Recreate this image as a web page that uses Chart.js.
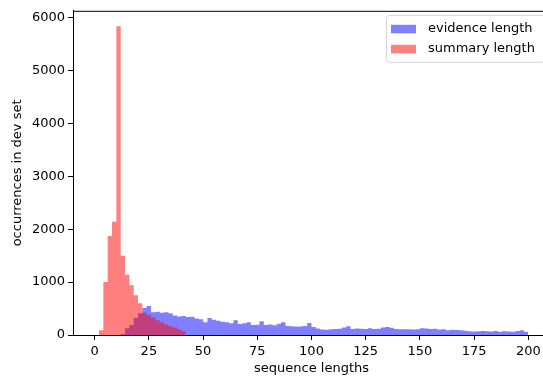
<!DOCTYPE html>
<html>
<head>
<meta charset="utf-8">
<script src="https://cdn.jsdelivr.net/npm/chart.js@4"></script>
<style>
html, body { margin: 0; padding: 0; background: #fff; overflow: hidden; }
#wrap { width: 543px; height: 376px; overflow: hidden; }
#box { width: 552px; height: 376px; }
</style>
</head>
<body>
<div id="wrap"><div id="box"><canvas id="hist"></canvas></div></div>
<script>
// histogram bins: width 2, left edges 0..198
const binWidth = 2;
const binStart = Array.from({length: 100}, (_, i) => i * binWidth);

const evidenceCounts = [
  0, 0, 0, 0, 0, 0, 20, 130, 190, 320,
  410, 510, 550, 430, 440, 420, 430, 410, 370, 350,
  360, 340, 345, 310, 300, 240, 320, 290, 270, 250,
  240, 220, 280, 210, 220, 240, 190, 195, 260, 190,
  200, 185, 215, 240, 170, 165, 160, 160, 170, 225,
  150, 125, 105, 100, 110, 115, 120, 140, 165, 115,
  125, 120, 115, 130, 115, 120, 140, 150, 135, 115,
  110, 110, 108, 105, 110, 130, 125, 115, 120, 105,
  110, 90, 100, 95, 90, 80, 70, 65, 70, 75,
  70, 65, 75, 60, 70, 65, 60, 75, 90, 60
];
const summaryCounts = [
  0, 90, 1000, 1870, 2140, 5840, 1500, 1140, 940, 750,
  600, 420, 380, 330, 280, 240, 200, 170, 140, 110, 70
];

const xTicks = [0, 25, 50, 75, 100, 125, 150, 175, 200];
const yTicks = [0, 1000, 2000, 3000, 4000, 5000, 6000];

const seriesNames = ['evidence length', 'summary length'];
const seriesColors = ['rgba(0,0,255,0.5)', 'rgba(255,0,0,0.5)'];

// step outline of a histogram: one point per bin left edge, closed at the last right edge
function toSteps(counts) {
  const pts = counts.map((c, i) => ({x: binStart[i], y: c}));
  pts.push({x: binStart[counts.length - 1] + binWidth, y: 0});
  return pts;
}

const FONT = 'DejaVu Sans';

const framePlugin = {
  id: 'frame',
  afterDatasetsDraw(chart) {
    const a = chart.chartArea, ctx = chart.ctx;
    ctx.save();
    ctx.strokeStyle = '#000';
    ctx.lineWidth = 1;
    ctx.beginPath();
    ctx.moveTo(a.left, a.top + 0.5);
    ctx.lineTo(a.right, a.top + 0.5);
    ctx.moveTo(a.right - 0.5, a.top);
    ctx.lineTo(a.right - 0.5, a.bottom);
    ctx.stroke();
    ctx.restore();
  }
};

const boxLegend = {
  id: 'boxLegend',
  afterDraw(chart) {
    const a = chart.chartArea, ctx = chart.ctx;
    const w = 158, h = 47;
    const x0 = a.right - w - 6, y0 = a.top + 4;
    ctx.save();
    ctx.fillStyle = 'rgba(255,255,255,0.8)';
    ctx.strokeStyle = '#d5d5d5';
    ctx.lineWidth = 1;
    ctx.beginPath();
    ctx.roundRect(x0 + 0.5, y0 + 0.5, w, h, 3);
    ctx.fill();
    ctx.stroke();
    ctx.font = '13px "' + FONT + '"';
    ctx.textBaseline = 'middle';
    chart.data.datasets.forEach((ds, i) => {
      const cy = y0 + 14 + i * 20;
      ctx.fillStyle = ds.backgroundColor;
      ctx.fillRect(x0 + 5, cy - 4, 25, 8.5);
      ctx.fillStyle = '#000';
      ctx.fillText(ds.label, x0 + 42, cy);
    });
    ctx.restore();
  }
};

new Chart(document.getElementById('hist'), {
  type: 'line',
  data: {
    datasets: [
      {
        label: seriesNames[0],
        data: toSteps(evidenceCounts),
        backgroundColor: seriesColors[0],
        order: 1
      },
      {
        label: seriesNames[1],
        data: toSteps(summaryCounts),
        backgroundColor: seriesColors[1],
        order: 0
      }
    ]
  },
  options: {
    responsive: true,
    maintainAspectRatio: false,
    animation: false,
    elements: {
      line: {stepped: 'before', fill: 'origin', borderWidth: 0, borderColor: 'rgba(0,0,0,0)', tension: 0},
      point: {radius: 0, hoverRadius: 0}
    },
    layout: {padding: {top: 5, right: 2, left: 0, bottom: 0}},
    plugins: {legend: {display: false}, tooltip: {enabled: false}},
    scales: {
      x: {
        type: 'linear',
        min: -10,
        max: 210,
        offset: false,
        afterFit: s => { s.height = 41; },
        afterBuildTicks: s => { s.ticks = xTicks.map(v => ({value: v})); },
        grid: {drawOnChartArea: false, offset: false, tickLength: 5, tickColor: '#000'},
        border: {color: '#000', width: 1},
        ticks: {color: '#000', font: {family: FONT, size: 13}, padding: 4, maxRotation: 0,
                callback: v => String(v)},
        title: {display: true, text: 'sequence lengths', color: '#000',
                font: {family: FONT, size: 13}, padding: {top: 0, bottom: 0}}
      },
      y: {
        min: 0,
        max: 6131,
        afterFit: s => { s.width = 73; },
        afterBuildTicks: s => { s.ticks = yTicks.map(v => ({value: v})); },
        grid: {drawOnChartArea: false, tickLength: 5, tickColor: '#000'},
        border: {color: '#000', width: 1},
        ticks: {color: '#000', font: {family: FONT, size: 13}, padding: 3,
                callback: v => String(v)},
        title: {display: true, text: 'occurrences in dev set', color: '#000',
                font: {family: FONT, size: 13}, padding: {top: 10, bottom: 0}}
      }
    }
  },
  plugins: [framePlugin, boxLegend]
});
</script>
</body>
</html>
